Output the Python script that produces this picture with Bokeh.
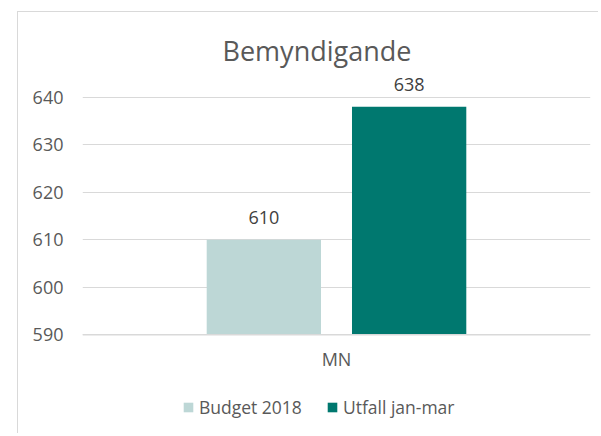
from bokeh.plotting import figure
from bokeh.models import ColumnDataSource, FactorRange, Range1d, Legend, LegendItem, FixedTicker, Span
from bokeh.transform import dodge
from bokeh.core.properties import value
from bokeh.embed import file_html
from bokeh.resources import INLINE

title = "Bemyndigande"
categories = ["MN"]
series_names = ["Budget 2018", "Utfall jan-mar"]
budget = [610]
utfall = [638]
colors = ["#BDD7D6", "#00786F"]
y_ticks = [590, 600, 610, 620, 630, 640]

FONT = "Open Sans"
TXT = "#595959"
LBL = "#404040"

y0 = y_ticks[0]
p = figure(x_range=FactorRange(*categories, range_padding=0), y_range=Range1d(569.01, 645.2),
           width=581, height=422, output_backend="svg", toolbar_location=None,
           x_axis_location=None,
           min_border_left=64, min_border_right=9, min_border_top=60, min_border_bottom=0)
p.styles = {"margin-left": "17px", "margin-top": "11px",
            "border-left": "1px solid #d9d9d9", "border-top": "1px solid #d9d9d9"}

src = ColumnDataSource(dict(cat=categories, budget=budget, utfall=utfall,
                            budget_lbl=[str(v) for v in budget], utfall_lbl=[str(v) for v in utfall],
                            base=[y0] * len(categories)))

r1 = p.vbar(x=dodge("cat", -0.143, range=p.x_range), top="budget", bottom=y0, width=0.225,
            source=src, fill_color=colors[0], line_color=None)
r2 = p.vbar(x=dodge("cat", 0.143, range=p.x_range), top="utfall", bottom=y0, width=0.225,
            source=src, fill_color=colors[1], line_color=None)

# data labels
p.text(x=dodge("cat", -0.143, range=p.x_range), y="budget", text="budget_lbl", source=src,
       text_align="center", text_baseline="alphabetic", y_offset=-22,
       text_font=value(FONT), text_font_size="18px", text_color=LBL)
p.text(x=dodge("cat", 0.143, range=p.x_range), y="utfall", text="utfall_lbl", source=src,
       text_align="center", text_baseline="alphabetic", y_offset=-22,
       text_font=value(FONT), text_font_size="18px", text_color=LBL)

# category axis: baseline line and category label
p.add_layout(Span(location=y0, dimension="width", line_color="#d9d9d9", line_width=1.5))
p.text(x="cat", y="base", text="cat", source=src, text_align="center", text_baseline="alphabetic",
       y_offset=24, text_font=value(FONT), text_font_size="18px", text_color=TXT)

p.title.text = title
p.title.align = "left"
p.title.offset = 140
p.title.text_font = FONT
p.title.text_font_size = "27px"
p.title.text_font_style = "normal"
p.title.text_color = TXT
p.title.standoff = 7

p.outline_line_color = None
p.xgrid.grid_line_color = None
p.ygrid.grid_line_color = "#d9d9d9"
p.ygrid.ticker = FixedTicker(ticks=y_ticks)

p.yaxis.ticker = FixedTicker(ticks=y_ticks)
p.yaxis.axis_line_color = None
p.yaxis.major_tick_line_color = None
p.yaxis.minor_tick_line_color = None
p.yaxis.major_tick_out = 0
p.yaxis.major_tick_in = 0
p.yaxis.minor_tick_out = 0
p.yaxis.major_label_standoff = 19
p.yaxis.major_label_text_font = FONT
p.yaxis.major_label_text_font_size = "18px"
p.yaxis.major_label_text_color = TXT

legend = Legend(items=[LegendItem(label=series_names[0], renderers=[r1]),
                       LegendItem(label=series_names[1], renderers=[r2])],
                orientation="horizontal", location=(100, 15),
                label_text_font=FONT, label_text_font_size="17.5px", label_text_color=TXT,
                glyph_width=12, glyph_height=12, spacing=24, label_standoff=5,
                border_line_color=None, background_fill_alpha=0, margin=0, padding=0)
p.add_layout(legend, "center")

open("out.html", "w").write(file_html(p, INLINE))
